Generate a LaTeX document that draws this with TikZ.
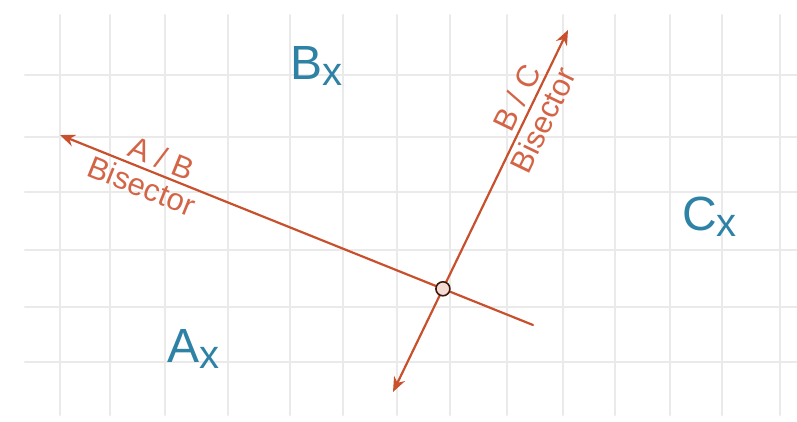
\documentclass[tikz,border=0pt]{standalone}
\usepackage{fontspec}
\setmainfont{Liberation Sans}
\usetikzlibrary{arrows.meta}
\definecolor{bisectorred}{RGB}{200,80,45}
\definecolor{labelred}{RGB}{212,100,70}
\definecolor{regionblue}{RGB}{45,130,165}
\definecolor{gridgray}{RGB}{234,234,234}

\begin{document}
\begin{tikzpicture}[x=1pt,y=1pt,>={Stealth[length=15pt,width=12pt]},line cap=round,line join=round,
  bisector/.style={line width=2.2pt,draw=bisectorred},
  bislabel/.style={sloped,text=labelred,font=\fontsize{31}{33}\selectfont,inner sep=5pt},
  region/.style={anchor=base west,text=regionblue,font=\fontsize{48}{50}\selectfont,inner sep=0pt},
  meetmark/.style={circle,draw=black!70!bisectorred,fill=bisectorred!20,line width=1.6pt,minimum size=14pt,inner sep=0pt}]
\useasboundingbox (0,0) rectangle (797,421);
\foreach \gx in {60,110,165,228,290,343,397,450,507,563,615,670,722,780}
  \draw[gridgray,line width=2.4pt] (\gx,6) -- (\gx,406);
\foreach \gy in {59,114,171,229,284,346}
  \draw[gridgray,line width=2.4pt] (25,\gy) -- (797,\gy);
\coordinate (abtip) at (60,286);
\coordinate (abend) at (533,96);
\coordinate (bctip) at (568,391);
\coordinate (bcend) at (393,29);
\coordinate (meet) at (intersection of abtip--abend and bctip--bcend);
\draw[bisector,->] (abend) -- (abtip);
\draw[bisector,<->] (bcend) -- (bctip);
\node[meetmark] (cross) at (meet) {};
\path (abtip) -- (meet) node[bislabel,pos=0.25,above] (ablabel) {A / B} node[bislabel,pos=0.23,below] (abname) {Bisector};
\path (meet) -- (bctip) node[bislabel,pos=0.71,above] (bclabel) {B / C} node[bislabel,pos=0.68,below] (bcname) {Bisector};
\node[region] (A) at (167,59) {A\raisebox{-6pt}{\fontsize{40}{42}\selectfont x}};
\node[region] (B) at (290,341) {B\raisebox{-6pt}{\fontsize{40}{42}\selectfont x}};
\node[region] (C) at (682,191) {C\raisebox{-6pt}{\fontsize{40}{42}\selectfont x}};
\end{tikzpicture}
\end{document}
